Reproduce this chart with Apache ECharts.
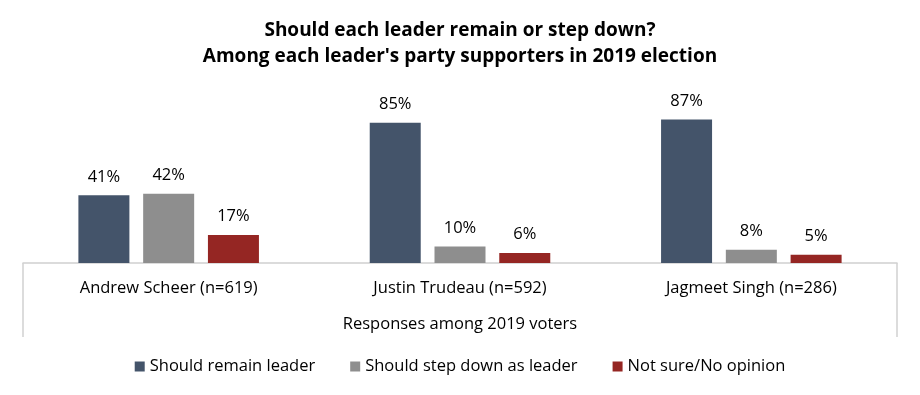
<!DOCTYPE html>
<html>
<head>
<meta charset="utf-8">
<script src="https://cdn.jsdelivr.net/npm/echarts@6/dist/echarts.min.js"></script>
<style>html,body{margin:0;padding:0;background:#fff;}#main{width:920px;height:395px;}</style>
</head>
<body>
<div id="main"></div>
<script>
const categories = ['Andrew Scheer (n=619)', 'Justin Trudeau (n=592)', 'Jagmeet Singh (n=286)'];
const seriesNames = ['Should remain leader', 'Should step down as leader', 'Not sure/No opinion'];
const remainValues = [41, 85, 87];
const stepDownValues = [42, 10, 8];
const notSureValues = [17, 6, 5];
const titleLines = ['Should each leader remain or step down?', "Among each leader's party supporters in 2019 election"];
const axisTitle = 'Responses among 2019 voters';

const FONT = '"Open Sans", sans-serif';
const colors = ['#44546a', '#8e8e8e', '#952623'];
const valuesList = [remainValues, stepDownValues, notSureValues];

const chart = echarts.init(document.getElementById('main'), null, {renderer: 'canvas'});
chart.setOption({
  animation: false,
  backgroundColor: '#ffffff',
  title: {
    text: titleLines.join('\n'),
    left: 'center',
    top: 18,
    padding: 0,
    textStyle: {fontFamily: FONT, fontWeight: 'bold', fontSize: 19, color: '#000', lineHeight: 26}
  },
  legend: {
    bottom: 15,
    left: 'center',
    itemWidth: 10,
    itemHeight: 10,
    itemGap: 35,
    icon: 'rect',
    textStyle: {fontFamily: FONT, fontSize: 16.5, color: '#000'},
    data: seriesNames
  },
  grid: {left: 23, right: 23, top: 98, bottom: 132, containLabel: false},
  xAxis: {
    type: 'category',
    data: categories,
    name: axisTitle,
    nameLocation: 'middle',
    nameGap: 53,
    nameTextStyle: {fontFamily: FONT, fontSize: 16.5, color: '#000'},
    axisLine: {lineStyle: {color: '#d0d0d0', width: 1.5}},
    axisTick: {show: false},
    axisLabel: {fontFamily: FONT, fontSize: 16.5, color: '#000', margin: 17}
  },
  yAxis: {
    type: 'value', min: 0, max: 100, show: false,
    splitLine: {show: false}
  },
  graphic: [
    {type: 'line', shape: {x1: 23, y1: 263, x2: 23, y2: 337}, style: {stroke: '#d0d0d0', lineWidth: 1.5}},
    {type: 'line', shape: {x1: 897, y1: 263, x2: 897, y2: 337}, style: {stroke: '#d0d0d0', lineWidth: 1.5}}
  ],
  series: seriesNames.map((name, i) => ({
    name: name,
    type: 'bar',
    data: valuesList[i],
    barWidth: 51,
    barGap: '27%',
    itemStyle: {color: colors[i]},
    label: {
      show: true, position: 'top', distance: 10,
      formatter: '{c}%',
      fontFamily: FONT, fontSize: 16.5, color: '#000'
    }
  }))
});
</script>
</body>
</html>
